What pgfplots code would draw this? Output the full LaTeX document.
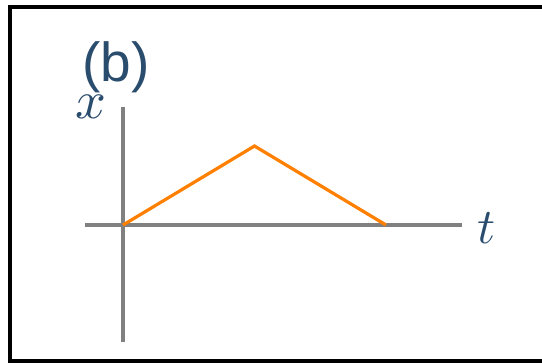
\documentclass[border=0pt]{standalone}
\usepackage{fontspec}
\setmainfont{Liberation Sans}
\usepackage{pgfplots}
\pgfplotsset{compat=1.18}

\definecolor{labblue}{RGB}{42,77,110}
\definecolor{axgray}{RGB}{128,128,128}
\definecolor{lineorange}{RGB}{255,128,0}

\begin{document}
\begin{tikzpicture}[x=1pt,y=1pt]
% page = 542 x 363, y measured upwards
\useasboundingbox (0,0) rectangle (542,363);
\draw[black, line width=4pt] (600,356) -- (10,356) -- (10,1.5) -- (600,1.5);

\begin{axis}[
    at={(85pt,21pt)},
    anchor=south west,
    scale only axis,
    width=377pt,
    height=235pt,
    xmin=-0.289, xmax=2.578,
    ymin=-1.481, ymax=1.494,
    axis lines=middle,
    axis line style={-, axgray, line width=4pt},
    xtick=\empty, ytick=\empty,
    clip=false,
]
\addplot[lineorange, line width=3.2pt] coordinates {
    (0,0)
    (1,1)
    (2,0)
};
\end{axis}

\node[labblue, font=\fontsize{55}{60}\selectfont] at (116,296) {(b)};
\node[labblue, scale=5.4, inner sep=0pt] at (91,256) {$x$};
\node[labblue, scale=5.0, inner sep=0pt] at (487,135) {$t$};
\end{tikzpicture}
\end{document}
